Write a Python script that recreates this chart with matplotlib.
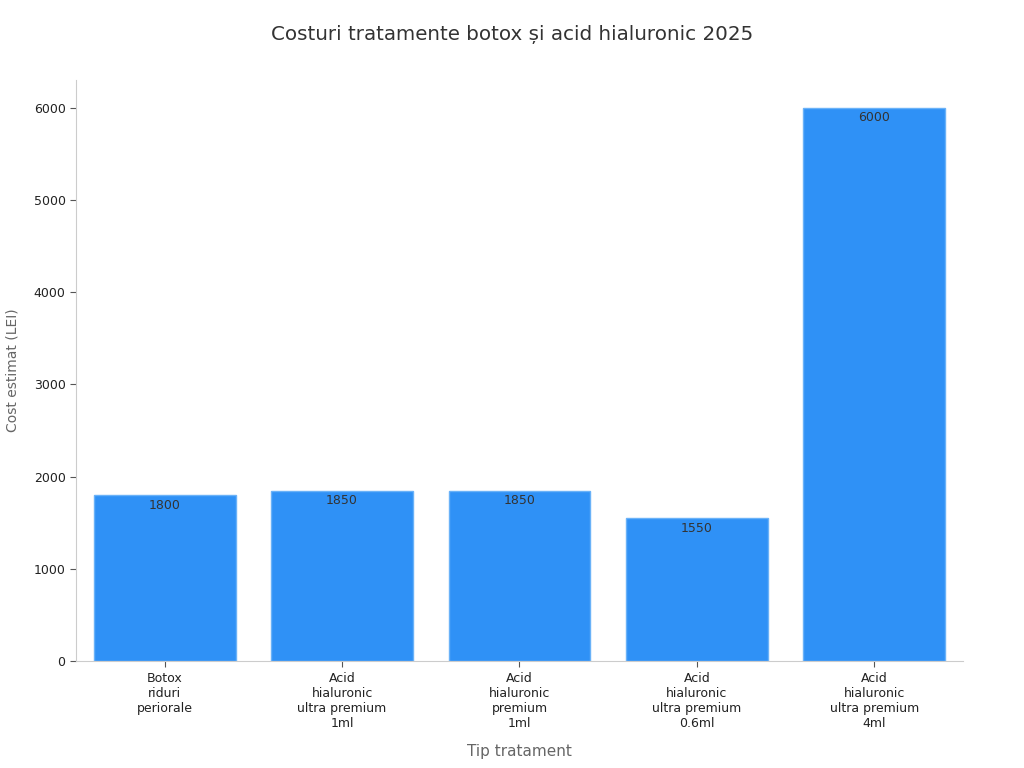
import matplotlib.pyplot as plt
import numpy as np

categories = ["Botox\nriduri\nperiorale",
              "Acid\nhialuronic\nultra premium\n1ml",
              "Acid\nhialuronic\npremium\n1ml",
              "Acid\nhialuronic\nultra premium\n0.6ml",
              "Acid\nhialuronic\nultra premium\n4ml"]
costs = [1800, 1850, 1850, 1550, 6000]
yticks = [0, 1000, 2000, 3000, 4000, 5000, 6000]

fig = plt.figure(figsize=(10.24, 7.68), dpi=100)
ax = fig.add_axes([0.0742, 0.139, 0.8662, 0.757])

x = np.arange(len(categories))
bars = ax.bar(x, costs, width=0.8, color="#2f91f6", edgecolor="#6ab2f8", linewidth=1)

for b, v in zip(bars, costs):
	ax.text(b.get_x() + b.get_width() / 2, v - 40, str(v), ha="center", va="top",
			fontsize=9, color="#333333")

ax.set_xlim(-0.5, 4.5)
ax.set_ylim(0, 6300)
ax.set_xticks(x)
ax.set_xticklabels(categories, fontsize=9, color="#222222")
ax.set_yticks(yticks)
ax.set_yticklabels([str(t) for t in yticks], fontsize=9, color="#222222")
ax.tick_params(axis="both", color="#555555", length=4)

for s in ["top", "right"]:
	ax.spines[s].set_visible(False)
for s in ["left", "bottom"]:
	ax.spines[s].set_color("#cccccc")

ax.set_xlabel("Tip tratament", fontsize=11, color="#666666", labelpad=10)
ax.set_ylabel("Cost estimat (LEI)", fontsize=10, color="#666666", labelpad=10)
fig.suptitle("Costuri tratamente botox și acid hialuronic 2025", fontsize=14.3, color="#333333", y=0.968)

plt.savefig("out.png", dpi=100)
